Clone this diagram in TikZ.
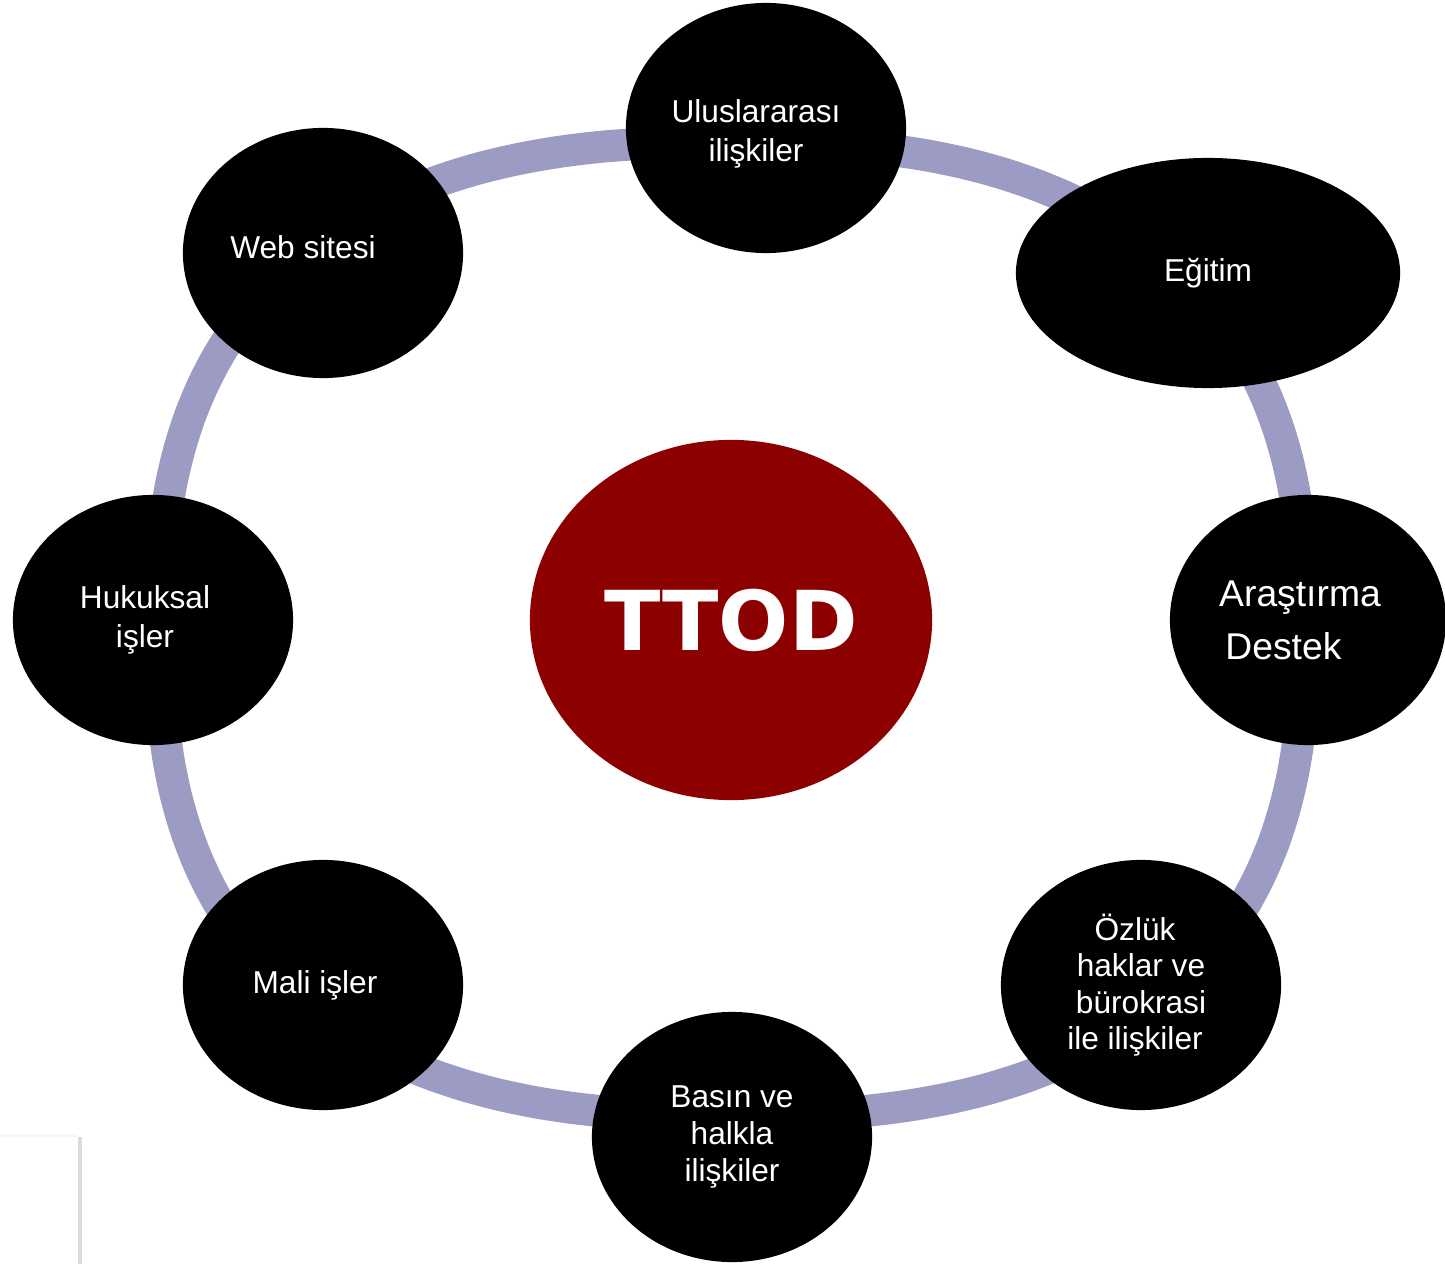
\documentclass[tikz,border=0pt]{standalone}
\usepackage{fontspec}
\setmainfont{Liberation Sans}
\newfontfamily\ttodfont{DejaVu Sans}
\usepackage{tikz}
\usetikzlibrary{shapes.geometric, positioning}
\definecolor{ringblue}{RGB}{155,155,195}
\definecolor{ttodred}{RGB}{140,0,0}
\tikzstyle{topic}=[ellipse, fill=black, text=white, inner sep=0pt, align=center, minimum width=2.8cm, minimum height=2.5cm, font=\fontsize{9}{11}\selectfont]
\tikzstyle{core}=[ellipse, fill=ttodred, text=white, inner sep=0pt, minimum width=4.02cm, minimum height=3.6cm, font=\ttodfont\bfseries\fontsize{23.5}{28}\selectfont]
\tikzstyle{ring}=[draw=ringblue, line width=0.32cm]

\begin{document}
\begin{tikzpicture}[x=0.01cm, y=-0.01cm]
      \useasboundingbox (0,0) rectangle (1445,1264);
      % ring behind the topics (a slightly squarish oval)
      \draw[ring] plot[domain=1:357, samples=90, smooth cycle]
            ({732+572*sign(cos(\x))*abs(cos(\x))^0.8}, {629+487*sign(sin(\x))*abs(sin(\x))^0.8});
      % faint page edge, bottom left
      \draw[gray!6, line width=0.03cm] (0,1135) -- (78,1135);
      \draw[gray!28, line width=0.04cm] (80,1137) -- (80,1264);
      \node[core] (ttod) at (731,620) {TTOD};
      \node[topic] (intl) at (766,128) {\rule{0pt}{10pt}Uluslararası\hspace*{0.2cm}\\ilişkiler\hspace*{0.2cm}};
      \node[topic, minimum width=3.84cm, minimum height=2.3cm] (egitim) at (1208,273) {\raisebox{0.06cm}{Eğitim}};
      \node[topic, minimum width=2.76cm, align=left, font=\fontsize{10.6}{15}\selectfont] (arastirma) at (1308,620) {Araştırma\hspace*{0.16cm}\\\,Destek};
      \node[topic, font=\fontsize{9}{10.4}\selectfont] (ozluk) at (1141,985) {Özlük\hspace*{0.12cm}\\haklar ve\hspace*{0.12cm}\\bürokrasi\hspace*{0.12cm}\\ile ilişkiler\hspace*{0.12cm}};
      \node[topic, font=\fontsize{9}{10.4}\selectfont] (basin) at (732,1137) {Basın ve\\halkla\\ilişkiler};
      \node[topic] (mali) at (323,985) {Mali işler\hspace*{0.16cm}};
      \node[topic] (hukuk) at (153,620) {Hukuksal\hspace*{0.16cm}\\işler\hspace*{0.16cm}};
      \node[topic] (web) at (323,253) {\raisebox{0.12cm}{Web sitesi}\hspace*{0.4cm}};
\end{tikzpicture}
\end{document}
